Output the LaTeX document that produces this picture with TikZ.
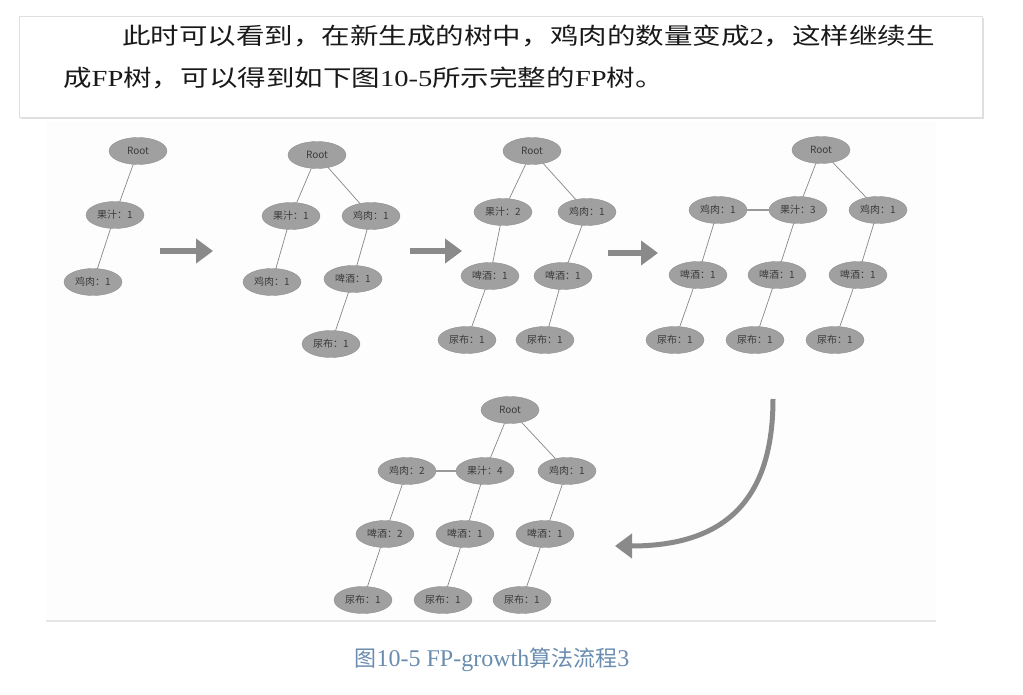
\documentclass[tikz,border=0pt]{standalone}
\usepackage{fontspec}
\setmainfont{Liberation Serif}
\newfontfamily\cjk{Noto Sans CJK SC}
\newfontfamily\cjkwide{Noto Sans CJK SC}[FakeStretch=1.24]
\newfontfamily\serifwide{Liberation Serif}[FakeStretch=1.24]
\usetikzlibrary{shapes.geometric,arrows.meta,shadows}

\definecolor{nodefill}{RGB}{160,160,160}
\definecolor{nodeline}{RGB}{145,145,145}
\definecolor{nodetext}{RGB}{60,60,60}
\definecolor{edgegray}{RGB}{135,135,135}
\definecolor{arrowgray}{RGB}{138,138,138}
\definecolor{captionblue}{RGB}{105,140,175}
\definecolor{panelgray}{RGB}{253,253,253}

\newcommand{\wz}[1]{{\cjkwide #1}}
\newcommand{\wl}[1]{{\serifwide #1}}

\tikzset{every node/.style={inner sep=0pt}}
\tikzstyle{item}=[ellipse,draw=nodeline,fill=nodefill,minimum width=58pt,minimum height=27pt,text=nodetext,font=\cjk\fontsize{10}{11}\selectfont]
\tikzstyle{link}=[draw=edgegray,line width=0.7pt]
\tikzstyle{samelink}=[draw=edgegray!85,line width=2pt]
\tikzstyle{flowarrow}=[draw=arrowgray,line width=6pt,-{Triangle[width=24pt,length=17pt]}]

\begin{document}
\begin{tikzpicture}[x=1pt,y=-1pt]
\useasboundingbox (0,0) rectangle (1023,695);

% text box at the top
\path[fill=white,draw=gray!25,drop shadow={shadow xshift=2pt,shadow yshift=-2pt,opacity=0.25}] (19,16) rectangle (982,117);
\node[anchor=west,text=black!90,font=\fontsize{23}{28}\selectfont] (line1) at (122,36)
    {\wz{此时可以看到，在新生成的树中，鸡肉的数量变成}\wl{2}\wz{，这样继续生}};
\node[anchor=west,text=black!90,font=\fontsize{23}{28}\selectfont] (line2) at (63,78)
    {\wz{成}\wl{FP}\wz{树，可以得到如下图}\wl{10-5}\wz{所示完整的}\wl{FP}\wz{树。}};

% panel of the figure
\fill[panelgray] (46,122) rectangle (936,621);
\draw[gray!20,line width=1.5pt] (46,621) -- (936,621);

% tree 1
\node[item] (t1r) at (138,151) {Root};
\node[item] (t1a) at (115,215) {果汁：1};
\node[item] (t1b) at (93,282) {鸡肉：1};

% tree 2
\node[item] (t2r) at (317,155) {Root};
\node[item] (t2a) at (291,216) {果汁：1};
\node[item] (t2b) at (371,216) {鸡肉：1};
\node[item] (t2c) at (272,282) {鸡肉：1};
\node[item] (t2d) at (353,279) {啤酒：1};
\node[item] (t2e) at (331,344) {尿布：1};

% tree 3
\node[item] (t3r) at (532,151) {Root};
\node[item] (t3a) at (503,212) {果汁：2};
\node[item] (t3b) at (587,212) {鸡肉：1};
\node[item] (t3c) at (490,276) {啤酒：1};
\node[item] (t3d) at (563,276) {啤酒：1};
\node[item] (t3e) at (467,340) {尿布：1};
\node[item] (t3f) at (545,340) {尿布：1};

% tree 4
\node[item] (t4r) at (821,150) {Root};
\node[item] (t4a) at (718,210) {鸡肉：1};
\node[item] (t4b) at (798,210) {果汁：3};
\node[item] (t4c) at (878,210) {鸡肉：1};
\node[item] (t4d) at (698,275) {啤酒：1};
\node[item] (t4e) at (777,275) {啤酒：1};
\node[item] (t4f) at (858,275) {啤酒：1};
\node[item] (t4g) at (675,340) {尿布：1};
\node[item] (t4h) at (755,340) {尿布：1};
\node[item] (t4i) at (835,340) {尿布：1};

% tree 5
\node[item] (t5r) at (510,410) {Root};
\node[item] (t5a) at (407,471) {鸡肉：2};
\node[item] (t5b) at (485,471) {果汁：4};
\node[item] (t5c) at (567,471) {鸡肉：1};
\node[item] (t5d) at (385,534) {啤酒：2};
\node[item] (t5e) at (465,534) {啤酒：1};
\node[item] (t5f) at (545,534) {啤酒：1};
\node[item] (t5g) at (363,600) {尿布：1};
\node[item] (t5h) at (443,600) {尿布：1};
\node[item] (t5i) at (522,600) {尿布：1};

% edges
\foreach \a/\b in {t1r/t1a,t1a/t1b,
        t2r/t2a,t2r/t2b,t2a/t2c,t2b/t2d,t2d/t2e,
        t3r/t3a,t3r/t3b,t3a/t3c,t3b/t3d,t3c/t3e,t3d/t3f,
        t4r/t4b,t4r/t4c,t4a/t4d,t4b/t4e,t4c/t4f,t4d/t4g,t4e/t4h,t4f/t4i,
        t5r/t5b,t5r/t5c,t5a/t5d,t5b/t5e,t5c/t5f,t5d/t5g,t5e/t5h,t5f/t5i}
    \draw[link] (\a) -- (\b);
\draw[samelink] (t4a) -- (t4b);
\draw[samelink] (t5a) -- (t5b);

% arrows between the steps
\coordinate (f1s) at (160,251);
\coordinate (f1e) at (213,251);
\coordinate (f2s) at (410,251);
\coordinate (f2e) at (462,251);
\coordinate (f3s) at (608,253);
\coordinate (f3e) at (658,253);
\coordinate (f4s) at (773,399);
\coordinate (f4e) at (615,546);
\draw[flowarrow] (f1s) -- (f1e);
\draw[flowarrow] (f2s) -- (f2e);
\draw[flowarrow] (f3s) -- (f3e);
\draw[flowarrow,line width=5pt] (f4s) .. controls (773,505) and (720,546) .. (f4e);

% caption
\node[text=captionblue] (cap) at (492,660)
    {{\cjk\fontsize{22}{26}\selectfont 图}{\fontsize{24}{26}\selectfont 10-5 FP-growth}{\cjk\fontsize{22}{26}\selectfont 算法流程}{\fontsize{24}{26}\selectfont 3}};
\end{tikzpicture}
\end{document}
